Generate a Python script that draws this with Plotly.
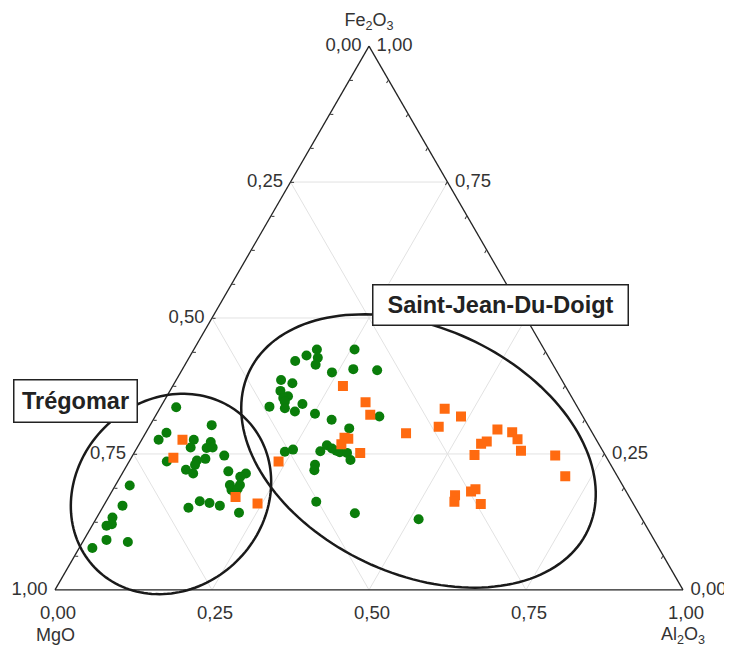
import numpy as np
import plotly.graph_objects as go

# ---- data (fractions) ----
# green circles (Trégomar group followed by Saint-Jean-Du-Doigt group)
green_fe2o3 = [0.336, 0.303, 0.289, 0.276, 0.276, 0.262, 0.272, 0.261, 0.262, 0.247,
               0.236, 0.238, 0.241, 0.230, 0.221, 0.214, 0.218, 0.214, 0.208, 0.193,
               0.193, 0.184, 0.186, 0.178, 0.151, 0.163, 0.160, 0.155, 0.142, 0.192,
               0.155, 0.133, 0.121, 0.118, 0.092, 0.088, 0.077,
               0.442, 0.442, 0.431, 0.427, 0.421, 0.414, 0.400, 0.406, 0.404, 0.386,
               0.380, 0.366, 0.356, 0.353, 0.346, 0.337, 0.334, 0.342, 0.328, 0.324,
               0.319, 0.313, 0.297, 0.254, 0.258, 0.255, 0.266, 0.260, 0.256, 0.253,
               0.252, 0.239, 0.230, 0.220, 0.162, 0.141, 0.130]
green_mgo = [0.639, 0.599, 0.678, 0.697, 0.641, 0.653, 0.616, 0.628, 0.618, 0.607,
             0.704, 0.655, 0.640, 0.662, 0.681, 0.673, 0.615, 0.589, 0.601, 0.625,
             0.609, 0.627, 0.616, 0.624, 0.712, 0.688, 0.674, 0.660, 0.636, 0.785,
             0.815, 0.842, 0.849, 0.859, 0.872, 0.840, 0.902,
             0.362, 0.302, 0.384, 0.368, 0.407, 0.378, 0.359, 0.322, 0.285, 0.447,
             0.432, 0.458, 0.451, 0.460, 0.461, 0.490, 0.467, 0.435, 0.454, 0.424,
             0.324, 0.403, 0.383, 0.507, 0.492, 0.450, 0.434, 0.429, 0.424, 0.420,
             0.409, 0.410, 0.471, 0.477, 0.503, 0.452, 0.356]
green_al2o3 = [0.025, 0.098, 0.033, 0.027, 0.083, 0.085, 0.112, 0.111, 0.120, 0.146,
               0.060, 0.107, 0.119, 0.108, 0.098, 0.113, 0.167, 0.197, 0.191, 0.182,
               0.198, 0.189, 0.198, 0.198, 0.137, 0.149, 0.166, 0.185, 0.222, 0.023,
               0.030, 0.025, 0.030, 0.023, 0.036, 0.072, 0.021,
               0.196, 0.256, 0.185, 0.205, 0.172, 0.208, 0.241, 0.272, 0.311, 0.167,
               0.188, 0.176, 0.193, 0.187, 0.193, 0.173, 0.199, 0.223, 0.218, 0.252,
               0.357, 0.284, 0.320, 0.239, 0.250, 0.295, 0.300, 0.311, 0.320, 0.327,
               0.339, 0.351, 0.299, 0.303, 0.335, 0.407, 0.514]

# orange squares
orange_fe2o3 = [0.276, 0.243, 0.171, 0.159, 0.375, 0.345, 0.322, 0.333, 0.319, 0.300,
                0.288, 0.280, 0.278, 0.268, 0.252, 0.236, 0.295, 0.290, 0.277, 0.256,
                0.273, 0.269, 0.248, 0.247, 0.209, 0.185, 0.181, 0.174, 0.162, 0.158]
orange_mgo = [0.659, 0.690, 0.627, 0.598, 0.354, 0.333, 0.337, 0.213, 0.194, 0.239,
              0.297, 0.399, 0.394, 0.410, 0.388, 0.526, 0.148, 0.127, 0.125, 0.130,
              0.176, 0.187, 0.208, 0.080, 0.083, 0.238, 0.247, 0.276, 0.283, 0.243]
orange_al2o3 = [0.065, 0.067, 0.202, 0.243, 0.271, 0.322, 0.341, 0.454, 0.487, 0.461,
                0.415, 0.321, 0.328, 0.322, 0.360, 0.238, 0.557, 0.583, 0.598, 0.614,
                0.551, 0.544, 0.544, 0.673, 0.708, 0.577, 0.572, 0.550, 0.555, 0.599]

tick_vals = [0, 0.0625, 0.125, 0.1875, 0.25, 0.3125, 0.375, 0.4375, 0.5,
             0.5625, 0.625, 0.6875, 0.75, 0.8125, 0.875, 0.9375, 1]
tick_labels = ["1,00", "", "", "", "0,75", "", "", "", "0,50",
               "", "", "", "0,25", "", "", "", "0,00"]
grid_levels = [0.25, 0.5, 0.75]

FONT = "Arial, Liberation Sans, sans-serif"
NB = "\u00a0"
fig = go.Figure()

# grid lines at the major levels
for v in grid_levels:
    for a_, b_, c_ in [([v, v], [1 - v, 0], [0, 1 - v]),
                       ([1 - v, 0], [v, v], [0, 1 - v]),
                       ([1 - v, 0], [0, 1 - v], [v, v])]:
        fig.add_trace(go.Scatterternary(a=a_, b=b_, c=c_, mode="lines",
                                        line=dict(color="#e2e2e2", width=1),
                                        hoverinfo="skip", showlegend=False))

fig.add_trace(go.Scatterternary(
    a=green_fe2o3, b=green_mgo, c=green_al2o3, mode="markers", name="green",
    marker=dict(symbol="circle", size=10, color="#0a7d0a", line=dict(width=0))))
fig.add_trace(go.Scatterternary(
    a=orange_fe2o3, b=orange_mgo, c=orange_al2o3, mode="markers", name="orange",
    marker=dict(symbol="square", size=10, color="#ff6a10", line=dict(width=0))))

TICKFONT = dict(family=FONT, size=18.5, color="#333")
axis_common = dict(tickmode="array", tickvals=tick_vals, showgrid=False,
                   linecolor="#222", linewidth=1.3, tickfont=TICKFONT, min=0)

# layout geometry (pixels); the page adds an 8px offset
OFF = 8
W, H = 724, 638
ML, MR, MT, MB = 47, 49, 38, 56
PW, PH = W - ML - MR, H - MT - MB


def to_paper(sx, sy):
    return (sx - OFF - ML) / PW, (H - MB - (sy - OFF)) / PH


def ellipse_path(cx, cy, ra, rb, ang_deg, n=160):
    th = np.deg2rad(ang_deg)
    t = np.linspace(0, 2 * np.pi, n)
    dx = ra * np.cos(t) * np.cos(th) - rb * np.sin(t) * np.sin(th)
    dy = ra * np.cos(t) * np.sin(th) + rb * np.sin(t) * np.cos(th)
    pts = [to_paper(x, y) for x, y in zip(cx + dx, cy - dy)]
    return "M " + " L ".join(f"{x:.5f},{y:.5f}" for x, y in pts) + " Z"


shapes = [
    dict(type="path", xref="paper", yref="paper", layer="above",
         path=ellipse_path(171, 494, 106, 94, 45),
         line=dict(color="#1a1a1a", width=2.5)),
    dict(type="path", xref="paper", yref="paper", layer="above",
         path=ellipse_path(418.5, 451, 187, 123, -25),
         line=dict(color="#1a1a1a", width=2.5)),
]

annotations = []
for txt, (sx, sy), w, h in [("Trégomar", (75.5, 401.3), 114, 33),
                            ("Saint-Jean-Du-Doigt", (500.5, 304.5), 246, 31)]:
    x, y = to_paper(sx, sy)
    annotations.append(dict(
        text=f"<b>{txt}</b>", xref="paper", yref="paper", x=x, y=y,
        xanchor="center", yanchor="middle", showarrow=False, width=w, height=h,
        font=dict(family=FONT, size=23.5, color="#222"),
        bgcolor="white", bordercolor="#222", borderwidth=1.5, borderpad=4))

for txt, (sx, sy) in [("MgO", (55, 635)), ("Al<sub>2</sub>O<sub>3</sub>", (683, 635))]:
    x, y = to_paper(sx, sy)
    annotations.append(dict(text=txt, xref="paper", yref="paper", x=x, y=y,
                            xanchor="center", yanchor="middle", showarrow=False,
                            font=dict(family=FONT, size=18, color="#333")))

fig.update_layout(
    width=W, height=H,
    margin=dict(l=ML, r=MR, t=MT, b=MB),
    paper_bgcolor="white",
    showlegend=False,
    ternary=dict(
        sum=1,
        bgcolor="white",
        aaxis=dict(title=dict(text="Fe<sub>2</sub>O<sub>3</sub>",
                              font=dict(family=FONT, size=18, color="#333")),
                   ticktext=[t + NB if t else "" for t in tick_labels],
                   ticks="inside", ticklen=3, tickcolor="#333", **axis_common),
        baxis=dict(title=dict(text=""),
                   ticktext=tick_labels,
                   ticks="outside", ticklen=6, tickcolor="rgba(0,0,0,0)", **axis_common),
        caxis=dict(title=dict(text=""),
                   ticktext=[NB + t if t else "" for t in tick_labels],
                   ticks="inside", ticklen=3, tickcolor="#333", **axis_common),
    ),
    shapes=shapes,
    annotations=annotations,
)

fig.write_html("out.html")
